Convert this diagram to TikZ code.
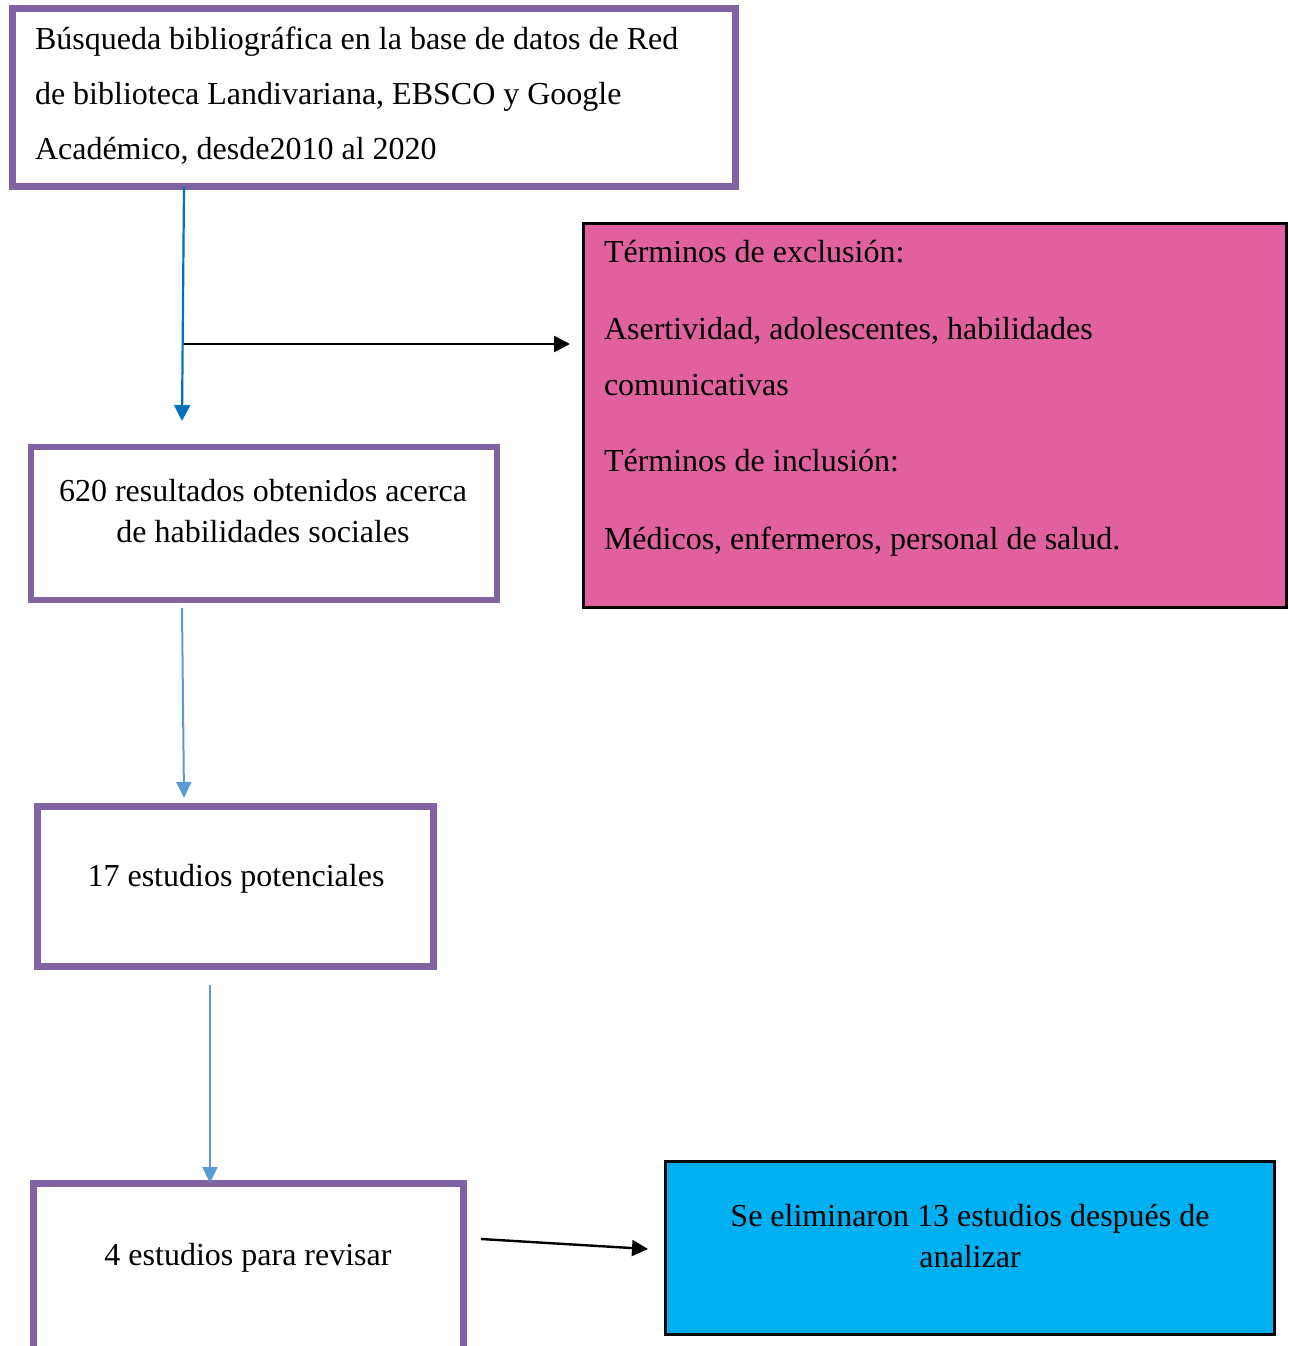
\documentclass[tikz,border=0pt]{standalone}
\usepackage{fontspec}
\setmainfont{Liberation Serif}
\usetikzlibrary{arrows.meta}
\definecolor{boxpurple}{HTML}{8064A2}
\definecolor{pinkfill}{HTML}{E060A0}
\definecolor{cyanfill}{HTML}{00B0F0}
\definecolor{darkblue}{HTML}{0070C0}
\definecolor{lightblue}{HTML}{5B9BD5}
\tikzset{
  pbox/.style={draw=boxpurple, line width=6.5pt, rectangle, outer sep=0pt, inner sep=0pt, anchor=north west},
  kbox/.style={draw=black, line width=2.5pt, rectangle, outer sep=0pt, inner sep=0pt, anchor=north west},
  txt/.style={inner sep=0pt, outer sep=0pt, font=\fontsize{32}{38}\selectfont},
  bluearr/.style={draw=darkblue, line width=2.2pt, -{Triangle[length=16pt,width=16pt]}},
  lbluearr/.style={draw=lightblue, line width=2pt, -{Triangle[length=16pt,width=15pt]}},
  blackarr/.style={draw=black, line width=2.4pt, -{Triangle[length=16pt,width=16pt]}}
}
\begin{document}
\begin{tikzpicture}[x=1pt,y=-1pt]
\useasboundingbox (0,0) rectangle (1288,1346);
\clip (0,0) rectangle (1288,1346);
% boxes
\node[pbox, minimum width=723pt, minimum height=178pt] (b1) at (12.5,8.5) {};
\node[kbox, fill=pinkfill, minimum width=703pt, minimum height=384pt] (pink) at (583.5,223.5) {};
\node[pbox, minimum width=466pt, minimum height=153pt] (b2) at (31,447) {};
\node[pbox, minimum width=396pt, minimum height=160pt] (b3) at (37.5,806.5) {};
\node[pbox, minimum width=430pt, minimum height=260pt] (b4) at (33.5,1183.5) {};
\node[kbox, fill=cyanfill, minimum width=609pt, minimum height=173pt] (cyan) at (665.5,1161.5) {};
% texts
\node[txt, anchor=base west] (b1l1) at (35,49) {Búsqueda bibliográfica en la base de datos de Red};
\node[txt, anchor=base west] (b1l2) at (35,104) {de biblioteca Landivariana, EBSCO y Google};
\node[txt, anchor=base west] (b1l3) at (35,159) {Académico, desde2010 al 2020};
\node[txt, anchor=base west] (p1) at (604,262) {Términos de exclusión:};
\node[txt, anchor=base west] (p2) at (604,339) {Asertividad, adolescentes, habilidades};
\node[txt, anchor=base west] (p3) at (604,395) {comunicativas};
\node[txt, anchor=base west] (p4) at (604,471) {Términos de inclusión:};
\node[txt, anchor=base west] (p5) at (604,549) {Médicos, enfermeros, personal de salud.};
\node[txt, anchor=base] (b2l1) at (263,501) {620 resultados obtenidos acerca};
\node[txt, anchor=base] (b2l2) at (263,542) {de habilidades sociales};
\node[txt, anchor=base] (b3l1) at (236,886) {17 estudios potenciales};
\node[txt, anchor=base] (b4l1) at (248,1265) {4 estudios para revisar};
\node[txt, anchor=base] (c1) at (970,1226) {Se eliminaron 13 estudios después de};
\node[txt, anchor=base] (c2) at (970,1267) {analizar};
% connector ends
\coordinate (a1s) at (184,187);
\coordinate (a1e) at (182,421);
\coordinate (a2s) at (184,344);
\coordinate (a2e) at (570,344);
\coordinate (a3s) at (182,608);
\coordinate (a3e) at (184,798);
\coordinate (a4s) at (210,985);
\coordinate (a4e) at (210,1183);
\coordinate (a5s) at (481,1239);
\coordinate (a5e) at (648,1249);
% connectors
\draw[bluearr] (a1s) -- (a1e);
\draw[blackarr] (a2s) -- (a2e);
\draw[lbluearr] (a3s) -- (a3e);
\draw[lbluearr] (a4s) -- (a4e);
\draw[blackarr] (a5s) -- (a5e);
\end{tikzpicture}
\end{document}
